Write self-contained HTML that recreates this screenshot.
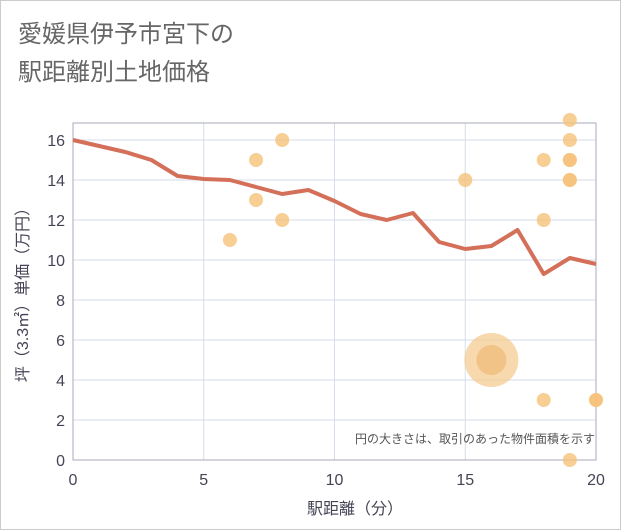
<!DOCTYPE html>
<html><head><meta charset="utf-8"><style>
body{margin:0;background:#fff;}
svg{display:block;font-family:"Liberation Sans","Noto Sans CJK JP",sans-serif;}
</style></head><body>
<svg width="621" height="530" xmlns="http://www.w3.org/2000/svg">
<rect x="0.5" y="0.5" width="620" height="529" fill="#fff" stroke="#ccc"/>
<text x="18" y="42" font-size="24" fill="#666">愛媛県伊予市宮下の</text>
<text x="18" y="80" font-size="24" fill="#666">駅距離別土地価格</text>
<g id="plot"></g>
<text x="595" y="443" font-size="12" fill="#555" text-anchor="end">円の大きさは、取引のあった物件面積を示す</text>
<text x="355" y="514" font-size="16" fill="#445" text-anchor="middle">駅距離（分）</text>
<text transform="translate(28,291) rotate(-90)" font-size="16" fill="#445" text-anchor="middle">坪（3.3㎡）単価（万円）</text>
</svg>
<script>
const xTicks=[0,5,10,15,20];
const yTicks=[0,2,4,6,8,10,12,14,16];
const lineX=[0,1,2,3,4,5,6,7,8,9,10,11,12,13,14,15,16,17,18,19,20];
const lineY=[16,15.7,15.4,15,14.2,14.05,14,13.65,13.3,13.5,12.95,12.3,12,12.35,10.9,10.55,10.7,11.5,9.3,10.1,9.8];
const ptX=[6,7,7,8,8,15,18,18,18,19,19,19,19,19,19,19,20,20];
const ptY=[11,15,13,16,12,14,15,12,3,17,16,15,15,14,14,0,3,3];
const bigX=[16];const bigY=[5];
const L=73,R=596,T=123,B=460,XMAX=20,YMAX=16.85;
const sx=v=>L+(R-L)*v/XMAX, sy=v=>B-(B-T)*v/YMAX;
const NS="http://www.w3.org/2000/svg";
const g=document.getElementById('plot');
function mk(t,a){const e=document.createElementNS(NS,t);for(const k in a)e.setAttribute(k,a[k]);g.appendChild(e);return e;}
xTicks.forEach(v=>{const l=mk('line',{x1:sx(v),x2:sx(v),y1:T,y2:B,stroke:'#d5dde8'});


const t=mk('text',{x:sx(v),y:B+25,'font-size':16,fill:'#445','text-anchor':'middle'});t.textContent=v;

});
yTicks.forEach(v=>{const l=mk('line',{x1:L,x2:R,y1:sy(v),y2:sy(v),stroke:'#d5dde8'});


const t=mk('text',{x:L-8,y:sy(v)+6,'font-size':16,fill:'#445','text-anchor':'end'});t.textContent=v;

});
const fr=mk('rect',{x:L,y:T,width:R-L,height:B-T,fill:'none',stroke:'#aab'});


bigX.forEach((v,i)=>{const c=mk('circle',{cx:sx(v),cy:sy(bigY[i]),r:27,fill:'#f5c98a',opacity:0.7});


const c2=mk('circle',{cx:sx(v),cy:sy(bigY[i]),r:15,fill:'#efbd7c',opacity:0.8});

});
ptX.forEach((v,i)=>{const c=mk('circle',{cx:sx(v),cy:sy(ptY[i]),r:7,fill:'#f5c279',opacity:0.8});

});
const p=mk('polyline',{points:lineX.map((v,i)=>sx(v)+','+sy(lineY[i])).join(' '),fill:'none',stroke:'#d4705a','stroke-width':4,'stroke-linejoin':'round'});


</script>
</body></html>
